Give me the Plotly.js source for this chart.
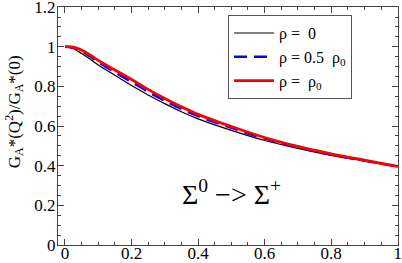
<!DOCTYPE html>
<html>
<head>
<meta charset="utf-8">
<script src="https://cdn.plot.ly/plotly-3.0.1.min.js"></script>
<style>html,body{margin:0;padding:0;background:#fff;}#chart{width:402px;height:263px;}</style>
</head>
<body>
<div id="chart"></div>
<script>
const q2 = [0, 0.025, 0.05, 0.075, 0.1, 0.15, 0.2, 0.25, 0.3, 0.35, 0.4, 0.5, 0.6, 0.7, 0.8, 0.9, 1.0];
const rho0Vals    = [1.0, 0.99, 0.966, 0.938, 0.908, 0.856, 0.805, 0.757, 0.713, 0.672, 0.636, 0.578, 0.527, 0.487, 0.452, 0.423, 0.394];
const rhoHalfVals = [1.0, 0.996, 0.978, 0.952, 0.923, 0.872, 0.823, 0.773, 0.728, 0.687, 0.65, 0.591, 0.537, 0.493, 0.457, 0.426, 0.396];
const rhoFullVals = [1.0, 0.998, 0.983, 0.959, 0.931, 0.883, 0.835, 0.785, 0.739, 0.697, 0.659, 0.598, 0.542, 0.497, 0.46, 0.428, 0.397];
const names = ['\u03C1 =  0', '\u03C1 = 0.5  \u03C1<sub>0</sub>', '\u03C1 =  \u03C1<sub>0</sub>'];
const xTicks = [0, 0.2, 0.4, 0.6, 0.8, 1];
const yTicks = [0, 0.2, 0.4, 0.6, 0.8, 1, 1.2];

const SERIF = 'Liberation Serif';

const traces = [
  {x: q2, y: rho0Vals, name: names[0], mode: 'lines', line: {color: '#000000', width: 1.2, shape: 'spline'}},
  {x: q2, y: rhoHalfVals, name: names[1], mode: 'lines', line: {color: '#0000ff', width: 2.6, dash: '13px,7px', shape: 'spline'}},
  {x: q2, y: rhoFullVals, name: names[2], mode: 'lines', line: {color: '#ff0000', width: 2.8, shape: 'spline'}}
];

const axisCommon = {
  showgrid: false, zeroline: false, showline: true, linecolor: '#444', linewidth: 1,
  mirror: 'ticks', ticks: 'inside', ticklen: 6, tickcolor: '#444', tickwidth: 1,
  ticklabeloverflow: 'allow',
  tickfont: {family: SERIF, size: 17, color: '#000'}
};

const layout = {
  width: 402, height: 263,
  margin: {l: 58, r: 4, t: 7, b: 18},
  paper_bgcolor: '#fff', plot_bgcolor: '#fff',
  font: {family: SERIF, color: '#000'},
  xaxis: Object.assign({}, axisCommon, {
    range: [-0.021, 1.001], tickvals: xTicks, ticktext: xTicks.map(String),
    ticklabelstandoff: -7,
    minor: {dtick: 0.05, tick0: 0, ticks: 'inside', ticklen: 3, tickcolor: '#444'}
  }),
  yaxis: Object.assign({}, axisCommon, {
    range: [0, 1.2005], tickvals: yTicks, ticktext: yTicks.map(String),
    ticklabelstandoff: -2,
    minor: {dtick: 0.05, tick0: 0, ticks: 'inside', ticklen: 3, tickcolor: '#444'}
  }),
  legend: {
    x: 0.5, y: 0.966, xanchor: 'left', yanchor: 'top',
    bgcolor: '#fff', bordercolor: '#555', borderwidth: 1,
    font: {family: SERIF, size: 16, color: '#000'},
    itemwidth: 40, tracegroupgap: 0
  },
  showlegend: true,
  annotations: [{
    text: '\u03A3<sup>0</sup> \u2212> \u03A3<sup>+</sup>', xref: 'paper', yref: 'paper',
    x: 0.51, y: 0.22, xanchor: 'center', yanchor: 'middle', showarrow: false,
    font: {family: SERIF, size: 28, color: '#000'}
  }, {
    text: 'G<sub>A</sub>*(Q<sup>2</sup>)/G<sub>A</sub>*(0)', xref: 'paper', yref: 'paper',
    x: -0.128, y: 0.56, xanchor: 'center', yanchor: 'middle', textangle: -90, showarrow: false,
    font: {family: SERIF, size: 17, color: '#000'}
  }]
};

Plotly.newPlot('chart', traces, layout, {displayModeBar: false, staticPlot: true});
</script>
</body>
</html>
